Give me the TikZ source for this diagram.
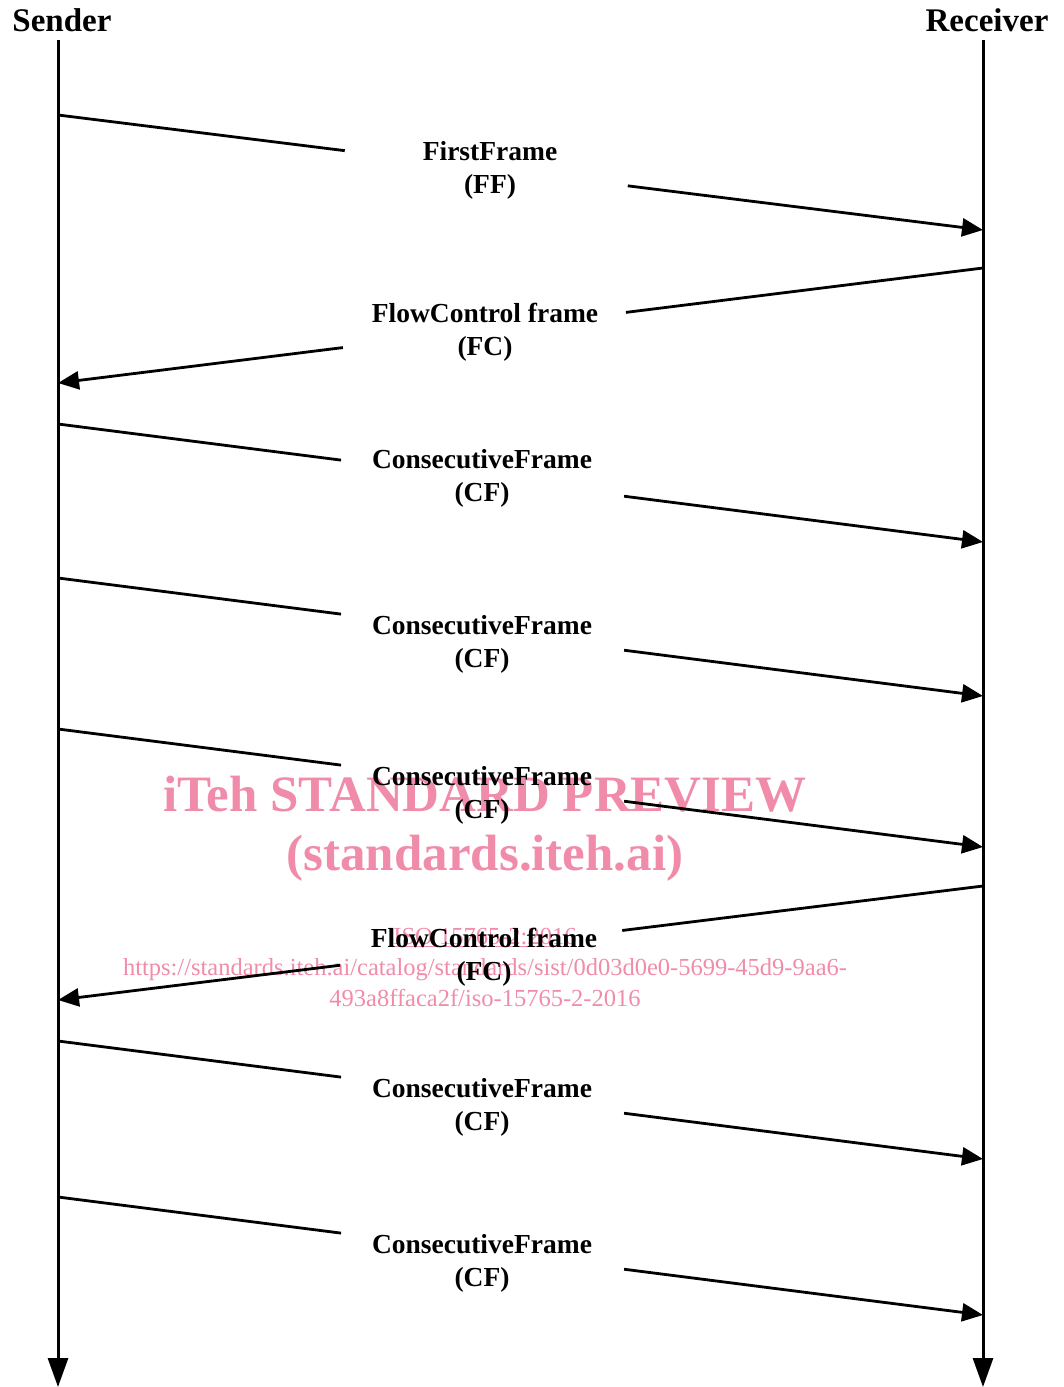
\documentclass[tikz,border=0pt]{standalone}
\usepackage{fontspec}
\setmainfont{Liberation Serif}
\usetikzlibrary{arrows.meta,calc}
\definecolor{wm}{RGB}{240,140,170}
\begin{document}
\begin{tikzpicture}[x=1pt,y=-1pt,
  lifeline/.style={line width=3pt,-{Triangle[length=29pt,width=20pt]}},
  msg/.style={line width=2.8pt},
  msgarrow/.style={line width=2.8pt,-{Triangle[length=21pt,width=18pt]}},
  head/.style={font=\fontsize{33}{40}\selectfont\bfseries,inner sep=0pt},
  lbl/.style={font=\fontsize{27.5}{33}\selectfont\bfseries,align=center,inner sep=0pt},
  wmbig/.style={text=wm,font=\fontsize{51}{59}\selectfont\bfseries,align=center,inner sep=0pt},
  wmsmall/.style={text=wm,font=\fontsize{24.5}{31}\selectfont,align=center,inner sep=0pt}]
\useasboundingbox (0,0) rectangle (1064,1387);

% watermark (under the drawing)
\node[wmbig] (wm1) at (485,829) {iTeh STANDARD PREVIEW\\(standards.iteh.ai)};
\node[wmsmall] (wm2) at (485,967) {\underline{ISO 15765-2:2016}\\https://standards.iteh.ai/catalog/standards/sist/0d03d0e0-5699-45d9-9aa6-\\493a8ffaca2f/iso-15765-2-2016};

% headers and lifelines
\node[head] (sender) at (62,20) {Sender};
\node[head] (receiver) at (987,20) {Receiver};
\coordinate (stop) at (58,40);
\coordinate (sbot) at (58,1387);
\coordinate (rtop) at (983,40);
\coordinate (rbot) at (983,1387);
\draw[lifeline] (stop) -- (sbot);
\draw[lifeline] (rtop) -- (rbot);

% 1 FirstFrame
\coordinate (s1) at (58,115); \coordinate (r1) at (983,230);
\node[lbl] (l1) at (490,170) {FirstFrame\\(FF)};
\draw[msg] (s1) -- ($(s1)!0.310!(r1)$);
\draw[msgarrow] ($(s1)!0.616!(r1)$) -- (r1);

% 2 FlowControl
\coordinate (r2) at (983,268); \coordinate (s2) at (58,383);
\node[lbl] (l2) at (485,332) {FlowControl frame\\(FC)};
\draw[msg] (r2) -- ($(r2)!0.386!(s2)$);
\draw[msgarrow] ($(r2)!0.692!(s2)$) -- (s2);

% 3 CF
\coordinate (s3) at (58,424); \coordinate (r3) at (983,542);
\node[lbl] (l3) at (482,478) {ConsecutiveFrame\\(CF)};
\draw[msg] (s3) -- ($(s3)!0.306!(r3)$);
\draw[msgarrow] ($(s3)!0.612!(r3)$) -- (r3);

% 4 CF
\coordinate (s4) at (58,578); \coordinate (r4) at (983,696);
\node[lbl] (l4) at (482,644) {ConsecutiveFrame\\(CF)};
\draw[msg] (s4) -- ($(s4)!0.306!(r4)$);
\draw[msgarrow] ($(s4)!0.612!(r4)$) -- (r4);

% 5 CF
\coordinate (s5) at (58,729); \coordinate (r5) at (983,847);
\node[lbl] (l5) at (482,795) {ConsecutiveFrame\\(CF)};
\draw[msg] (s5) -- ($(s5)!0.306!(r5)$);
\draw[msgarrow] ($(s5)!0.612!(r5)$) -- (r5);

% 6 FlowControl
\coordinate (r6) at (983,886); \coordinate (s6) at (58,1000);
\node[lbl] (l6) at (484,957) {FlowControl frame\\(FC)};
\draw[msg] (r6) -- ($(r6)!0.390!(s6)$);
\draw[msgarrow] ($(r6)!0.695!(s6)$) -- (s6);

% 7 CF
\coordinate (s7) at (58,1041); \coordinate (r7) at (983,1159);
\node[lbl] (l7) at (482,1107) {ConsecutiveFrame\\(CF)};
\draw[msg] (s7) -- ($(s7)!0.306!(r7)$);
\draw[msgarrow] ($(s7)!0.612!(r7)$) -- (r7);

% 8 CF
\coordinate (s8) at (58,1197); \coordinate (r8) at (983,1315);
\node[lbl] (l8) at (482,1263) {ConsecutiveFrame\\(CF)};
\draw[msg] (s8) -- ($(s8)!0.306!(r8)$);
\draw[msgarrow] ($(s8)!0.612!(r8)$) -- (r8);
\end{tikzpicture}
\end{document}
